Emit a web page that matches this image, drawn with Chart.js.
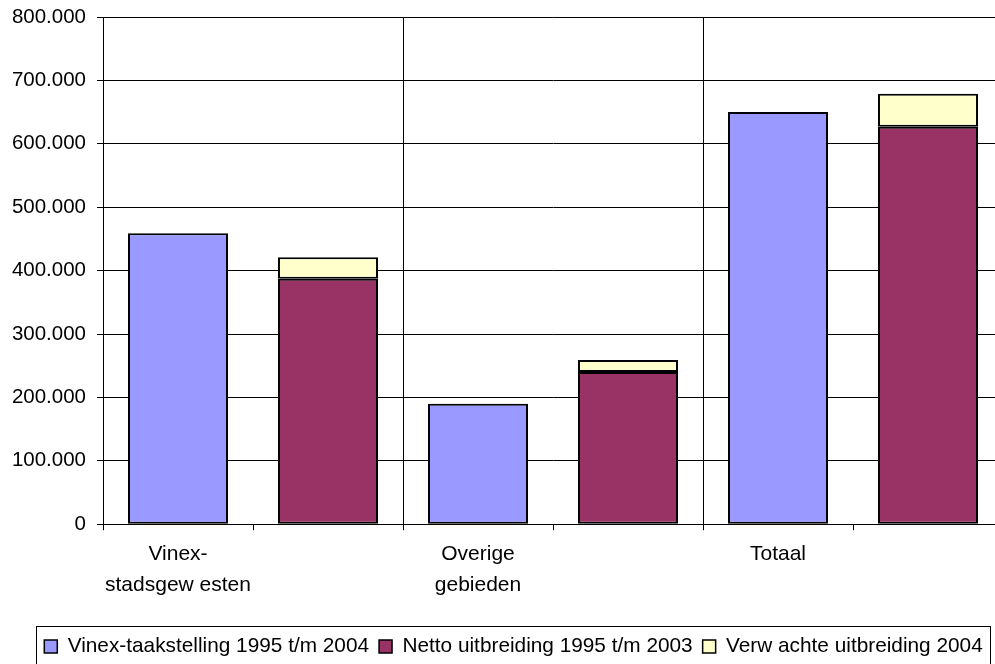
<!DOCTYPE html>
<html>
<head>
<meta charset="utf-8">
<script src="https://cdn.jsdelivr.net/npm/chart.js@4/dist/chart.umd.min.js"></script>
<style>
  html, body { margin: 0; padding: 0; background: #fff; overflow: hidden; }
  #wrap { width: 1010px; height: 664px; position: relative; }
</style>
</head>
<body>
<div id="wrap"><canvas id="c"></canvas></div>
<script>
// Regions (label lines per region)
const regions = [
  ['Vinex-', 'stadsgew esten'],
  ['Overige', 'gebieden'],
  ['Totaal']
];
// Woningen per regio
const vinexTaakstelling = [459000, 190000, 650000];   // 1995 t/m 2004
const nettoUitbreiding = [387000, 240000, 627000];    // 1995 t/m 2003
const verwachteUitbreiding = [34000, 19000, 52000];   // 2004
const seriesNames = [
  'Vinex-taakstelling 1995 t/m 2004',
  'Netto uitbreiding 1995 t/m 2003',
  'Verw achte uitbreiding 2004'
];
const yMax = 800000;
const yStep = 100000;

// Each region gets two slots: the target bar and the stacked realised bar
const slotLabels = [];
const blueData = [], redData = [], yellowData = [];
regions.forEach((lines, i) => {
  slotLabels.push(lines.length === 1 ? lines[0] : lines, '');
  blueData.push(vinexTaakstelling[i], null);
  redData.push(null, nettoUitbreiding[i]);
  yellowData.push(null, verwachteUitbreiding[i]);
});

const FAMILY = "'Liberation Sans', Arial, sans-serif";
const fmt = v => String(v).replace(/\B(?=(\d{3})+(?!\d))/g, '.');
const LEGEND_DX = 12;
const LEGEND_DY = 3;

// Nudge the legend row and draw a frame around it
const legendFrame = {
  id: 'legendFrame',
  afterUpdate(chart) {
    const lg = chart.legend;
    if (!lg) return;
    lg.left += LEGEND_DX;
    lg.right += LEGEND_DX;
    lg.top += LEGEND_DY;
    lg.bottom += LEGEND_DY;
    lg.legendHitBoxes.forEach(b => { b.left += LEGEND_DX; b.top += LEGEND_DY; });
  },
  afterDraw(chart) {
    const lg = chart.legend;
    if (!lg || !lg.legendHitBoxes.length) return;
    const boxes = lg.legendHitBoxes;
    const left = Math.min(...boxes.map(b => b.left)) - 8;
    const right = Math.max(...boxes.map(b => b.left + b.width)) + 8;
    const top = Math.min(...boxes.map(b => b.top)) - 10;
    const bottom = Math.max(...boxes.map(b => b.top + b.height)) + 14;
    const ctx = chart.ctx;
    ctx.save();
    ctx.strokeStyle = '#000';
    ctx.lineWidth = 1;
    ctx.strokeRect(Math.round(left) + 0.5, Math.round(top) + 0.5, Math.round(right - left), Math.round(bottom - top));
    ctx.restore();
  }
};

const common = { borderColor: '#000', borderWidth: 2, borderSkipped: false, barPercentage: 0.667, categoryPercentage: 1 };

new Chart(document.getElementById('c'), {
  type: 'bar',
  data: {
    labels: slotLabels,
    datasets: [
      Object.assign({ label: seriesNames[0], data: blueData, backgroundColor: '#9999FF' }, common),
      Object.assign({ label: seriesNames[1], data: redData, backgroundColor: '#993366' }, common),
      Object.assign({ label: seriesNames[2], data: yellowData, backgroundColor: '#FFFFCC' }, common)
    ]
  },
  options: {
    responsive: true,
    maintainAspectRatio: false,
    animation: false,
    layout: { padding: { top: 17, left: 0, right: 7, bottom: 0 } },
    plugins: {
      tooltip: { enabled: false },
      legend: {
        position: 'bottom',
        labels: {
          font: { family: FAMILY, size: 20.8 },
          color: '#000',
          boxWidth: 13,
          boxHeight: 13,
          padding: 10,
          generateLabels(chart) {
            return chart.data.datasets.map((ds, i) => ({
              text: ds.label,
              fillStyle: ds.backgroundColor,
              strokeStyle: '#000',
              lineWidth: 1.5,
              fontColor: '#000',
              datasetIndex: i,
              hidden: false
            }));
          }
        }
      }
    },
    scales: {
      x: {
        stacked: true,
        offset: true,
        afterFit(scale) { scale.height = 99; },
        grid: {
          offset: true,
          color: ctx => (ctx.index === 2 || ctx.index === 4) ? '#000' : 'rgba(0,0,0,0)',
          tickColor: '#000',
          tickLength: 6,
          lineWidth: 1
        },
        border: { color: '#000', width: 1 },
        ticks: {
          font: { family: FAMILY, size: 21, lineHeight: 1.5 },
          color: '#000',
          padding: 8,
          maxRotation: 0,
          autoSkip: false
        }
      },
      y: {
        stacked: true,
        min: 0,
        max: yMax,
        afterFit(scale) {
          scale.width = 103;
          scale.paddingTop = 0;
          scale.paddingBottom = 0;
        },
        grid: { color: '#000', tickColor: '#000', tickLength: 6, lineWidth: 1 },
        border: { color: '#000', width: 1 },
        ticks: {
          stepSize: yStep,
          font: { family: FAMILY, size: 20.5 },
          color: '#000',
          padding: 11,
          callback: v => fmt(v)
        }
      }
    }
  },
  plugins: [legendFrame]
});
</script>
</body>
</html>
